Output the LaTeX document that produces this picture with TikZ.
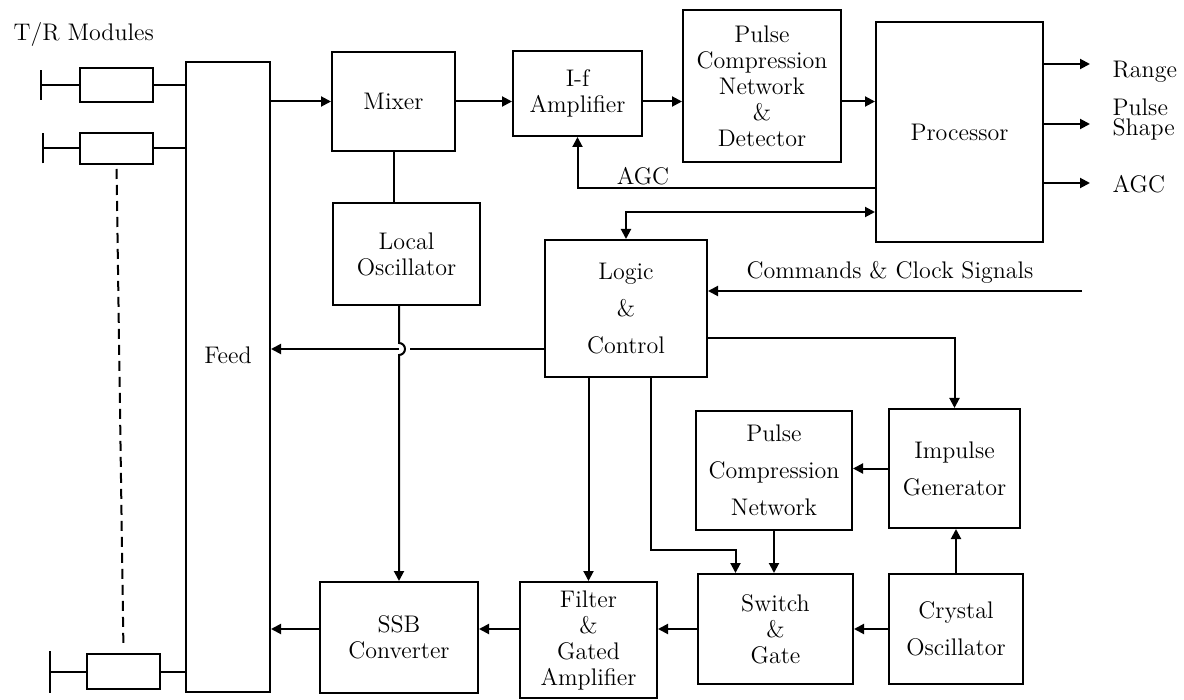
\documentclass[tikz,border=0pt]{standalone}
\usepackage{tikz}
\usetikzlibrary{arrows.meta}

\begin{document}
\begin{tikzpicture}[
        x=0.5pt, y=-0.5pt,
        line width=1pt,
        >={Triangle[length=5pt, width=5pt]},
        every node/.style={font=\fontsize{12}{13}\selectfont},
        block/.style={draw, rectangle, align=center, inner sep=0pt},
        antenna/.style={-{Bar[width=#1, line width=1.2pt]}},
        antenna/.default=15pt,
      ]
      \useasboundingbox (0,0) rectangle (1184,700);

      % T/R modules and feed
      \node[anchor=west] (trlbl) at (6,35) {T/R Modules};
      \node[block, minimum width=36.5pt, minimum height=17pt]   (tr1) at (116.5,85) {};
      \node[block, minimum width=36.5pt, minimum height=15.5pt] (tr2) at (116.5,148.5) {};
      \node[block, minimum width=36.5pt, minimum height=17.5pt] (tr3) at (123.5,671.5) {};
      \node[block, minimum width=42pt, minimum height=315pt,
        label={[yshift=11pt]center:Feed}] (feed) at (228,377) {};

      \coordinate (ant1) at (40,85);
      \coordinate (ant2) at (42,148.5);
      \coordinate (ant3) at (49,671.5);

      % receive chain
      \node[block, minimum width=61.5pt, minimum height=49.5pt] (mixer) at (393.5,101.5) {Mixer};
      \node[block, minimum width=64.5pt, minimum height=42.5pt] (ifamp) at (577.5,93.5) {I-f\\Amplifier};
      \node[block, minimum width=79pt, minimum height=76pt] (pcnd) at (762,86)
        {Pulse\\Compression\\Network\\\&\\Detector};
      \node[block, minimum width=83.5pt, minimum height=110pt] (proc) at (959.5,132) {Processor};
      \node[block, minimum width=73.5pt, minimum height=51pt] (lo) at (406.5,254) {Local\\Oscillator};
      \node[block, minimum width=81pt, minimum height=68.5pt] (logic) at (626,308.5)
        {Logic\\[5.5pt]\&\\[5.5pt]Control};

      % transmit chain
      \node[block, minimum width=65.5pt, minimum height=59.5pt] (imp) at (954.5,468.5)
        {Impulse\\[5.5pt]Generator};
      \node[block, minimum width=78pt, minimum height=59.5pt] (pcn) at (774,470.5)
        {Pulse\\[5.5pt]Compression\\[5.5pt]Network};
      \node[block, minimum width=79pt, minimum height=55.5pt] (ssb) at (399,637.5) {SSB\\Converter};
      \node[block, minimum width=68.5pt, minimum height=58pt] (filt) at (588.5,640)
        {Filter\\\&\\Gated\\Amplifier};
      \node[block, minimum width=77.5pt, minimum height=55pt] (sw) at (775.5,629) {Switch\\\&\\Gate};
      \node[block, minimum width=67pt, minimum height=55pt] (xtal) at (956,629)
        {Crystal\\[5.5pt]Oscillator};

      % outputs and labels
      \node[anchor=west] (range) at (1105,72) {Range};
      \node[anchor=west, align=left] (pshape) at (1105,120) {Pulse\\[-3pt]Shape};
      \node[anchor=west] (agcout) at (1105,184) {AGC};
      \node (agclbl) at (643,176) {AGC};
      \node (cmdlbl) at (890,272) {Commands \& Clock Signals};

      \coordinate (out1) at (1090,64);
      \coordinate (out2) at (1090,124);
      \coordinate (out3) at (1090,183);
      \coordinate (agc) at (577.5,188);
      \coordinate (bus) at (626,212);
      \coordinate (cmd) at (1082,291);
      \coordinate (fd) at (399,349);
      \coordinate (limp) at (957,338);
      \coordinate (lsw) at (651,550);

      \draw[antenna] (tr1) -- (ant1);
      \draw[antenna] (tr2) -- (ant2);
      \draw[antenna=21pt] (tr3) -- (ant3);
      \draw (tr1) -- (feed.west |- tr1);
      \draw (tr2) -- (feed.west |- tr2);
      \draw (tr3) -- (feed.west |- tr3);
      \draw[dash pattern={on 5pt off 3pt}, shorten <=2pt, shorten >=3pt] (tr2.south) -- (tr3.north);

      \draw[->] (feed.east |- mixer) -- (mixer);
      \draw[->] (mixer.east) -- (ifamp.west |- mixer.east);
      \draw[->] (ifamp.east |- mixer.east) -- (pcnd.west |- mixer.east);
      \draw[->] (pcnd.east |- mixer.east) -- (proc.west |- mixer.east);
      \draw[->] (proc.east |- out1) -- (out1);
      \draw[->] (proc.east |- out2) -- (out2);
      \draw[->] (proc.east |- out3) -- (out3);
      \draw (mixer.south) -- (mixer.south |- lo.north);
      \draw[->] (proc.west |- agc) -- (agc) -- (ifamp.south);
      \draw[<->] (logic.north) -- (bus) -- (proc.west |- bus);
      \draw[->] (cmd) -- (logic.east |- cmd);

      \draw[->] (lo.south -| ssb.north) -- ([yshift=3pt]fd)
        arc[start angle=90, end angle=-90, radius=3pt] -- (ssb.north);
      \draw[->] (logic.west |- fd) -- ([xshift=5.5pt]fd) (fd) -- (feed.east |- fd);

      \draw[->] (filt.north |- logic.south) -- (filt.north);
      \draw[->] (logic.south -| lsw) -- (lsw) -| ([xshift=-20pt]sw.north);
      \draw[->] (logic.east |- limp) -| (imp.north);
      \draw[->] (imp.west) -- (pcn.east |- imp.west);
      \draw[->] (pcn.south) -- (pcn.south |- sw.north);
      \draw[->] (xtal.north) -- (xtal.north |- imp.south);
      \draw[->] (xtal.west) -- (sw.east);
      \draw[->] (sw.west) -- (filt.east |- sw.west);
      \draw[->] (filt.west |- sw.west) -- (ssb.east |- sw.west);
      \draw[->] (ssb.west |- sw.west) -- (feed.east |- sw.west);
    \end{tikzpicture}
\end{document}
